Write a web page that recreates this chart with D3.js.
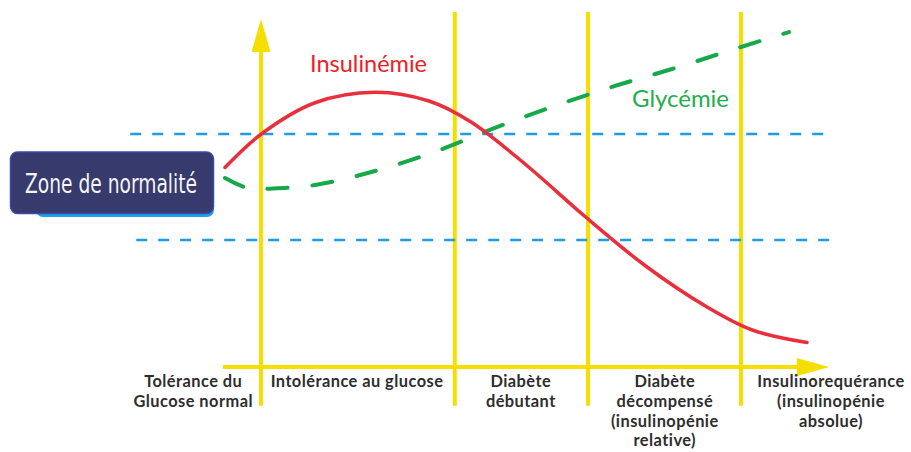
<!DOCTYPE html>
<html>
<head>
<meta charset="utf-8">
<script src="https://cdn.jsdelivr.net/npm/d3@7"></script>
<style>
  html, body { margin: 0; padding: 0; background: #fff; }
  svg { display: block; }
</style>
</head>
<body>
<div id="chart"></div>
<script>
// progression along the disease course (0..100) and relative level (0..100)
const insulinX = [0, 6, 15, 25, 34, 41, 50, 60, 70, 80, 88, 97];
const insulinY = [57, 66.5, 75.5, 78.5, 76, 70, 58, 43, 29, 17.5, 10.5, 7];

const glycX = [0, 4, 8, 15, 25, 35, 45, 55, 65, 75, 85, 94];
const glycY = [54, 51, 51, 52, 56, 61.5, 68.3, 74.6, 80.3, 85.4, 90.9, 95.7];

// stage boundaries (first one is the y axis)
const stageBounds = [6, 38.3, 60.5, 86];
const stageCenters = [-5.3, 22, 49.3, 73.3, 101];
const stageLabels = [
    ["Tolérance du", "Glucose normal"],
    ["Intolérance au glucose"],
    ["Diabète", "débutant"],
    ["Diabète", "décompensé", "(insulinopénie", "relative)"],
    ["Insulinorequérance", "(insulinopénie", "absolue)"]
];

// normal glycaemia band
const normalBand = [36.3, 66.6];

const width = 911, height = 452;

const x = d3.scaleLinear().domain([0, 100]).range([225, 825]);
const y = d3.scaleLinear().domain([0, 100]).range([367, 17]);

const svg = d3.select("#chart").append("svg")
    .attr("width", width)
    .attr("height", height);

const yellow = "#f6df00";

// stage separators
svg.selectAll(".stage-line")
    .data(stageBounds.slice(1))
    .enter().append("line")
    .attr("class", "stage-line")
    .attr("x1", d => x(d)).attr("x2", d => x(d))
    .attr("y1", y(101.4)).attr("y2", y(-11.1))
    .attr("stroke", yellow).attr("stroke-width", 4);

// y axis with arrow
svg.append("line")
    .attr("x1", x(stageBounds[0])).attr("x2", x(stageBounds[0]))
    .attr("y1", y(90)).attr("y2", y(-11.1))
    .attr("stroke", yellow).attr("stroke-width", 4);
svg.append("path")
    .attr("d", `M${x(stageBounds[0])},${y(99.4)} L${x(stageBounds[0]) - 9.5},${y(90)} L${x(stageBounds[0]) + 9.5},${y(90)} Z`)
    .attr("fill", yellow);

// x axis with arrow
svg.append("line")
    .attr("x1", x(-0.35)).attr("x2", x(95.5))
    .attr("y1", y(0)).attr("y2", y(0))
    .attr("stroke", yellow).attr("stroke-width", 4);
svg.append("path")
    .attr("d", `M${x(100.7)},${y(0)} L${x(95.3)},${y(0) - 9} L${x(95.3)},${y(0) + 9} Z`)
    .attr("fill", yellow);

// normal band dashed limits
svg.selectAll(".band-line")
    .data(normalBand)
    .enter().append("line")
    .attr("class", "band-line")
    .attr("x1", (d, i) => i === 0 ? x(-14.8) : x(-15.8))
    .attr("x2", x(100.8))
    .attr("y1", d => y(d)).attr("y2", d => y(d))
    .attr("stroke", "#1e9de3")
    .attr("stroke-width", 2.5)
    .attr("stroke-dasharray", "11,11");

const line = d3.line()
    .x(d => x(d[0]))
    .y(d => y(d[1]))
    .curve(d3.curveCatmullRom.alpha(0.5));

// glycemia (dashed green)
svg.append("path")
    .datum(d3.zip(glycX, glycY))
    .attr("d", line)
    .attr("fill", "none")
    .attr("stroke", "#17a84a")
    .attr("stroke-width", 4)
    .attr("stroke-linecap", "round")
    .attr("stroke-dasharray", "20,25");

// insulinemia (red)
svg.append("path")
    .datum(d3.zip(insulinX, insulinY))
    .attr("d", line)
    .attr("fill", "none")
    .attr("stroke", "#e8303c")
    .attr("stroke-width", 3.5)
    .attr("stroke-linecap", "round");

// series labels
svg.append("text")
    .attr("x", 310).attr("y", 72)
    .attr("font-family", "Lato, 'Open Sans', sans-serif")
    .attr("font-size", 23)
    .attr("fill", "#ee1d26")
    .attr("textLength", 117)
    .attr("lengthAdjust", "spacingAndGlyphs")
    .text("Insulinémie");

svg.append("text")
    .attr("x", 632).attr("y", 107)
    .attr("font-family", "Lato, 'Open Sans', sans-serif")
    .attr("font-size", 23)
    .attr("fill", "#22ae4c")
    .attr("textLength", 97)
    .attr("lengthAdjust", "spacingAndGlyphs")
    .text("Glycémie");

// zone de normalité box
svg.append("rect")
    .attr("x", 36).attr("y", 156)
    .attr("width", 178).attr("height", 61)
    .attr("rx", 7)
    .attr("fill", "#1aa3e6");
svg.append("rect")
    .attr("x", 10.5).attr("y", 152)
    .attr("width", 203).attr("height", 61.5)
    .attr("rx", 7)
    .attr("fill", "#363a6c")
    .attr("stroke", "#3c4aa8")
    .attr("stroke-width", 1.5);
svg.append("text")
    .attr("x", 25).attr("y", 193)
    .attr("font-family", "'DejaVu Sans Condensed', 'DejaVu Sans', sans-serif")
    .attr("font-size", 26)
    .attr("fill", "#f4f4f4")
    .attr("textLength", 172)
    .attr("lengthAdjust", "spacingAndGlyphs")
    .text("Zone de normalité");

// stage labels under the axis
const stageG = svg.selectAll(".stage-label")
    .data(stageLabels)
    .enter().append("text")
    .attr("class", "stage-label")
    .attr("text-anchor", "middle")
    .attr("font-family", "Lato, 'Open Sans', sans-serif")
    .attr("font-weight", "bold")
    .attr("font-size", 16.4)
    .attr("letter-spacing", 0.45)
    .attr("fill", "#2e2e2e");

stageG.selectAll("tspan")
    .data((d, i) => d.map(t => ({ t, i })))
    .enter().append("tspan")
    .attr("x", d => x(stageCenters[d.i]))
    .attr("y", (d, j) => 387 + j * 19.8)
    .text(d => d.t);
</script>
</body>
</html>
